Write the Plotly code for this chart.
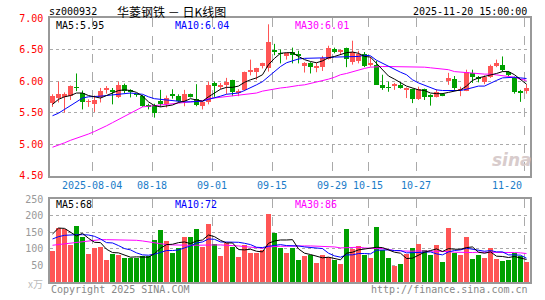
import plotly.graph_objects as go
import numpy as np

# ---------------- data ----------------
date_labels = ["2025-08-04", "08-18", "09-01", "09-15", "09-29", "10-15", "10-27", "11-20"]
date_idx = [7, 17, 27, 37, 47, 53, 61, 79]

opens = [5.65, 5.73, 5.75, 5.77, 5.90, 5.81, 5.67, 5.63, 5.75, 5.86,
         5.865, 5.75, 5.93, 5.86, 5.79, 5.76, 5.61, 5.62, 5.68, 5.63,
         5.79, 5.77, 5.68, 5.79, 5.71, 5.60, 5.66, 5.97, 5.92, 5.93,
         6.01, 5.82, 5.86, 6.15, 6.14, 6.24, 6.20, 6.50, 6.44, 6.41,
         6.46, 6.43, 6.24, 6.29, 6.20, 6.23, 6.35, 6.51, 6.47, 6.52,
         6.30, 6.32, 6.43, 6.27, 6.26, 5.93, 5.90, 5.93, 5.93, 5.86,
         5.87, 5.72, 5.88, 5.76, 5.75, 5.79, 6.00, 6.04, 5.86, 5.84,
         6.12, 6.05, 5.99, 6.07, 6.24, 6.26, 6.14, 6.05, 5.83, 5.84]
highs = [5.79, 5.99, 5.82, 5.93, 6.12, 5.85, 5.71, 5.77, 5.89, 5.92,
         5.89, 5.99, 5.96, 5.87, 5.80, 5.78, 5.64, 5.64, 5.86, 5.77,
         5.87, 5.79, 5.86, 5.80, 5.95, 5.67, 5.99, 5.99, 5.97, 6.05,
         6.02, 5.87, 6.15, 6.34, 6.21, 6.29, 6.90, 6.59, 6.50, 6.45,
         6.53, 6.48, 6.30, 6.30, 6.29, 6.40, 6.56, 6.53, 6.50, 6.53,
         6.64, 6.48, 6.46, 6.38, 6.32, 6.10, 5.99, 5.97, 5.98, 5.90,
         5.88, 5.91, 5.88, 5.79, 5.87, 5.81, 6.13, 6.08, 5.91, 6.18,
         6.18, 6.08, 6.09, 6.26, 6.34, 6.39, 6.16, 6.07, 5.86, 5.95]
lows = [5.59, 5.66, 5.50, 5.70, 5.84, 5.55, 5.59, 5.51, 5.66, 5.80,
        5.63, 5.73, 5.81, 5.74, 5.75, 5.59, 5.55, 5.42, 5.59, 5.58,
        5.72, 5.66, 5.60, 5.74, 5.60, 5.55, 5.63, 5.75, 5.87, 5.79,
        5.76, 5.76, 5.84, 6.09, 6.02, 6.20, 6.15, 6.41, 6.28, 6.34,
        6.28, 6.28, 6.135, 6.12, 6.14, 6.16, 6.34, 6.44, 6.43, 6.22,
        6.26, 6.28, 6.22, 6.23, 5.94, 5.86, 5.83, 5.86, 5.88, 5.73,
        5.65, 5.70, 5.70, 5.61, 5.74, 5.76, 5.94, 5.86, 5.76, 5.84,
        5.97, 5.98, 5.95, 6.05, 6.22, 6.15, 6.07, 5.80, 5.67, 5.80]
closes = [5.76, 5.80, 5.79, 5.92, 5.89, 5.67, 5.68, 5.70, 5.85, 5.875,
          5.82, 5.93, 5.85, 5.82, 5.78, 5.60, 5.60, 5.49, 5.63, 5.73,
          5.775, 5.68, 5.79, 5.76, 5.62, 5.66, 5.94, 5.92, 5.93, 5.99,
          5.82, 5.84, 6.14, 6.17, 6.20, 6.28, 6.62, 6.46, 6.43, 6.44,
          6.41, 6.40, 6.29, 6.23, 6.24, 6.37, 6.52, 6.46, 6.48, 6.35,
          6.46, 6.43, 6.24, 6.28, 5.94, 5.89, 5.89, 5.94, 5.89, 5.88,
          5.72, 5.87, 5.75, 5.75, 5.82, 5.77, 6.05, 5.89, 5.87, 6.15,
          6.07, 6.04, 6.07, 6.24, 6.29, 6.18, 6.10, 5.83, 5.82, 5.89]

ma5 = [5.63, 5.71, 5.75, 5.77, 5.81, 5.81, 5.77, 5.75, 5.73, 5.77,
       5.81, 5.85, 5.86, 5.85, 5.82, 5.76, 5.67, 5.61, 5.59, 5.61,
       5.62, 5.66, 5.68, 5.72, 5.70, 5.68, 5.75, 5.81, 5.87, 5.90,
       5.90, 5.92, 5.98, 6.02, 6.05, 6.10, 6.26, 6.36, 6.44, 6.45,
       6.45, 6.39, 6.34, 6.31, 6.29, 6.32, 6.37, 6.39, 6.42, 6.45,
       6.46, 6.44, 6.39, 6.38, 6.28, 6.18, 6.08, 6.03, 5.97, 5.92,
       5.89, 5.86, 5.85, 5.81, 5.80, 5.80, 5.82, 5.84, 5.86, 5.92,
       6.01, 6.05, 6.07, 6.10, 6.12, 6.15, 6.15, 6.10, 6.02, 5.95]
ma10 = [5.45, 5.49, 5.55, 5.61, 5.68, 5.73, 5.75, 5.75, 5.76, 5.77,
        5.78, 5.80, 5.81, 5.81, 5.80, 5.79, 5.75, 5.72, 5.71, 5.70,
        5.68, 5.68, 5.67, 5.67, 5.67, 5.68, 5.71, 5.73, 5.76, 5.79,
        5.80, 5.81, 5.85, 5.89, 5.94, 5.99, 6.07, 6.15, 6.23, 6.29,
        6.32, 6.35, 6.36, 6.36, 6.36, 6.36, 6.37, 6.38, 6.38, 6.38,
        6.38, 6.39, 6.41, 6.40, 6.33, 6.28, 6.23, 6.18, 6.14, 6.10,
        6.02, 5.97, 5.93, 5.89, 5.86, 5.85, 5.85, 5.85, 5.85, 5.87,
        5.89, 5.92, 5.92, 5.97, 6.01, 6.05, 6.06, 6.06, 6.05, 6.04]
ma30 = [4.95, 4.98, 5.02, 5.06, 5.09, 5.12, 5.16, 5.20, 5.24, 5.29,
        5.34, 5.39, 5.45, 5.50, 5.55, 5.59, 5.60, 5.61, 5.62, 5.62,
        5.63, 5.64, 5.65, 5.66, 5.67, 5.69, 5.72, 5.73, 5.74, 5.75,
        5.76, 5.77, 5.78, 5.79, 5.81, 5.84, 5.86, 5.87, 5.89, 5.90,
        5.92, 5.93, 5.94, 5.96, 5.98, 6.00, 6.03, 6.06, 6.10, 6.12,
        6.15, 6.18, 6.20, 6.22, 6.23, 6.23, 6.23, 6.23, 6.23, 6.23,
        6.23, 6.23, 6.22, 6.21, 6.20, 6.19, 6.18, 6.15, 6.14, 6.14,
        6.12, 6.11, 6.11, 6.11, 6.10, 6.09, 6.08, 6.06, 6.03, 6.01]

volume = [93, 163, 160, 111, 168, 135, 84, 102, 105, 67,
          85, 81, 72, 72, 72, 79, 79, 126, 156, 123,
          87, 102, 135, 135, 159, 105, 174, 114, 78, 117,
          105, 75, 111, 87, 87, 96, 206, 146, 101, 87,
          101, 66, 78, 82, 57, 81, 75, 66, 54, 158,
          99, 107, 81, 72, 164, 96, 72, 48, 54, 85,
          101, 113, 95, 80, 110, 60, 161, 86, 80, 134,
          68, 80, 71, 101, 68, 63, 65, 86, 77, 59]
vma5 = [145, 163, 162, 150, 139, 147, 132, 120, 119, 99,
        89, 88, 82, 75, 76, 75, 75, 86, 102, 113,
        114, 119, 121, 116, 124, 127, 142, 137, 126, 118,
        118, 98, 97, 99, 93, 91, 117, 124, 127, 127,
        128, 100, 87, 83, 77, 73, 75, 72, 67, 87,
        90, 97, 100, 103, 105, 104, 97, 90, 87, 71,
        72, 80, 90, 95, 100, 92, 101, 99, 99, 104,
        106, 90, 87, 91, 78, 77, 74, 77, 72, 68]
vma10 = [130, 137, 141, 143, 143, 143, 142, 138, 130, 119,
         118, 110, 101, 97, 88, 82, 81, 84, 89, 95,
         95, 97, 103, 109, 118, 121, 130, 129, 121, 121,
         122, 120, 117, 113, 105, 104, 108, 111, 113, 110,
         110, 109, 106, 105, 102, 101, 87, 79, 75, 82,
         82, 86, 86, 85, 96, 97, 97, 95, 95, 88,
         88, 89, 90, 91, 85, 82, 91, 95, 97, 102,
         99, 95, 93, 95, 91, 91, 82, 82, 81, 72]
vma30 = [111, 113, 115, 117, 120, 123, 125, 127, 128, 128,
         128, 128, 128, 127, 126, 124, 121, 118, 115, 113,
         112, 111, 111, 111, 111, 112, 113, 112, 112, 111,
         112, 109, 107, 106, 104, 102, 106, 108, 108, 108,
         109, 108, 109, 109, 108, 108, 108, 106, 103, 104,
         105, 105, 103, 101, 101, 101, 97, 95, 94, 93,
         93, 94, 94, 94, 94, 93, 92, 90, 89, 90,
         89, 90, 90, 90, 91, 90, 90, 89, 88, 86]

price_ticks = [4.5, 5.0, 5.5, 6.0, 6.5, 7.0]
vol_ticks = [50, 100, 150, 200, 250]

# ---------------- styling ----------------
RED = "#FF5555"
GREEN = "#00A000"
MONO = "DejaVu Sans Mono"
n = len(closes)
xc = np.arange(n) + 2.5 / 6
up = [c >= o for o, c in zip(opens, closes)]
colors = [RED if u else GREEN for u in up]

fig = go.Figure()

# wicks
for col, flag in [(RED, True), (GREEN, False)]:
    wx, wy = [], []
    for i in range(n):
        if up[i] == flag:
            wx += [xc[i], xc[i], None]
            wy += [lows[i], highs[i], None]
    fig.add_trace(go.Scatter(x=wx, y=wy, mode="lines", line=dict(color=col, width=1),
                             hoverinfo="skip", xaxis="x", yaxis="y"))

# bodies
base = [min(o, c) for o, c in zip(opens, closes)]
hgt = [max(abs(c - o), 0.013) for o, c in zip(opens, closes)]
fig.add_trace(go.Bar(x=xc, y=hgt, base=base, width=5 / 6,
                     marker=dict(color=colors, line=dict(width=0)),
                     xaxis="x", yaxis="y"))

# price MAs
for arr, col in [(ma30, "#FF00FF"), (ma10, "#0000FF"), (ma5, "#000000")]:
    fig.add_trace(go.Scatter(x=xc, y=arr, mode="lines", line=dict(color=col, width=1),
                             xaxis="x", yaxis="y"))

# volume
fig.add_trace(go.Bar(x=xc, y=volume, width=5 / 6,
                     marker=dict(color=colors, line=dict(width=0)),
                     xaxis="x2", yaxis="y2"))
for arr, col in [(vma30, "#FF00FF"), (vma10, "#0000FF"), (vma5, "#000000")]:
    fig.add_trace(go.Scatter(x=xc, y=arr, mode="lines", line=dict(color=col, width=1),
                             xaxis="x2", yaxis="y2"))

grid_common = dict(showgrid=True, gridcolor="#AAAAAA", gridwidth=1, zeroline=False,
                   showline=True, mirror=True, linecolor="#999999", linewidth=1.5,
                   ticks="")

fig.update_layout(
    width=545, height=300,
    margin=dict(l=50, r=15, t=17, b=15),
    paper_bgcolor="white", plot_bgcolor="white",
    showlegend=False, barmode="overlay", bargap=0,
    font=dict(family=MONO, size=10),
    xaxis=dict(domain=[0, 1], range=[0, 80], anchor="y", tickvals=date_idx,
               showticklabels=False, griddash="dash", **grid_common),
    yaxis=dict(domain=[0.403, 1], range=[4.5, 7.0], anchor="x", tickvals=price_ticks,
               ticktext=[f"{v:.2f}" for v in price_ticks], ticklabelstandoff=3,
               tickfont=dict(color="#FF0000", size=10, family=MONO),
               griddash="dot", **grid_common),
    xaxis2=dict(domain=[0, 1], range=[0, 80], anchor="y2", tickvals=date_idx,
                showticklabels=False, griddash="dash", **grid_common),
    yaxis2=dict(domain=[0, 0.3134], range=[0, 250], anchor="x2", tickvals=vol_ticks,
                ticktext=[str(v) for v in vol_ticks], ticklabelstandoff=3,
                tickfont=dict(color="#999999", size=10, family=MONO),
                griddash="dot", **grid_common),
)

ann = []
# date labels
for lbl, idx in zip(date_labels, date_idx):
    last = idx == date_idx[-1]
    ann.append(dict(x=idx, y=0.366, xref="x", yref="paper", text=lbl, showarrow=False,
                    xanchor="right" if last else "center", yanchor="middle",
                    font=dict(color="#1A7CC8", size=10, family=MONO)))

def txt(x, y, s, color="#000000", anchor="left", size=10, family=MONO):
    ann.append(dict(x=x, y=y, xref="paper", yref="paper", text=s, showarrow=False,
                    xanchor=anchor, yanchor="middle", borderpad=0,
                    font=dict(color=color, size=size, family=family)))

txt(-0.004, 1.0245, "sz000932")
txt(0.2530, 1.0265, "华菱钢铁 － 日K线图", anchor="center", size=12, family="Noto Sans CJK SC")
txt(0.9958, 1.0245, "2025-11-20 15:00:00", anchor="right")
txt(0.0104, 0.9720, f"MA5:{ma5[-1]:.2f}")
txt(0.2583, 0.9720, f"MA10:{ma10[-1]:.2f}", color="#0000FF")
txt(0.5083, 0.9720, f"MA30:{ma30[-1]:.2f}", color="#FF00FF")
txt(0.0104, 0.2948, f"MA5:{vma5[-1]}")
txt(0.2583, 0.2948, f"MA10:{vma10[-1]}", color="#0000FF")
txt(0.5083, 0.2948, f"MA30:{vma30[-1]}", color="#FF00FF")
txt(0.0, -0.028, "Copyright 2025 SINA.COM", color="#888888")
txt(0.9979, -0.028, "http://finance.sina.com.cn", color="#888888", anchor="right")
txt(-0.012, -0.004, "x万", color="#BBBBBB", anchor="right", size=10, family="Noto Sans CJK SC")
txt(0.9625, 0.4627, "<b><i>sina</i></b>", color="#D8CCCC", anchor="center", size=17,
    family="DejaVu Sans")

fig.update_layout(annotations=ann)
fig.write_html("out.html")
